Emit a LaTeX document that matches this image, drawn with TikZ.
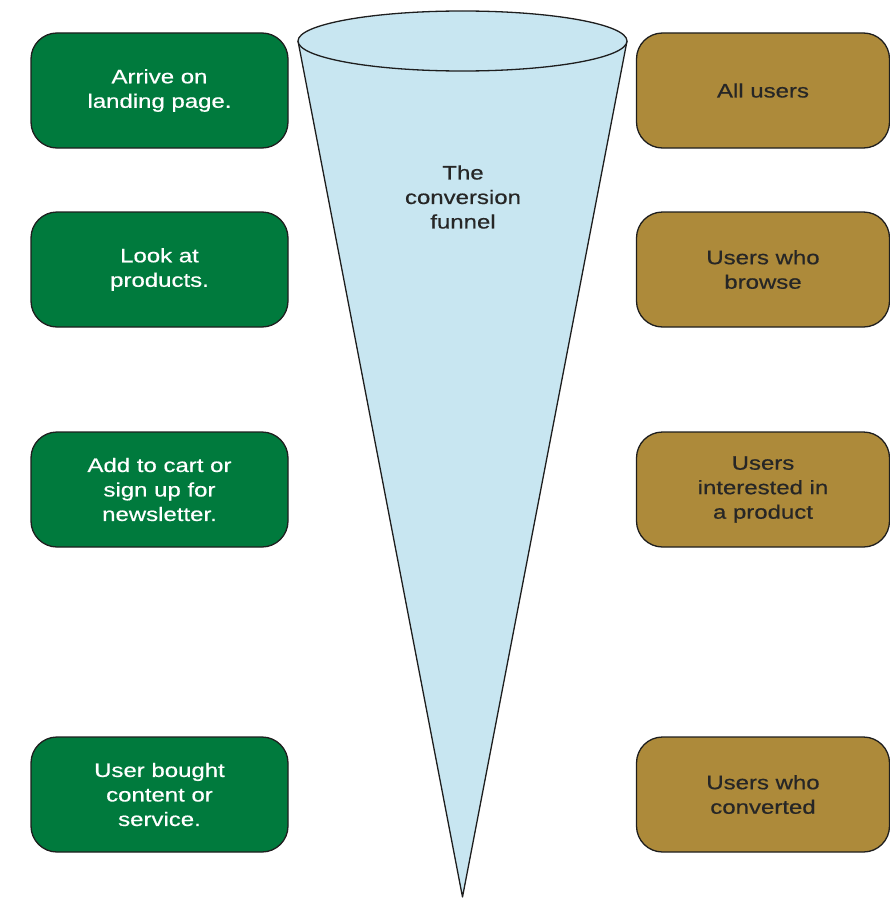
\documentclass[tikz,border=0pt]{standalone}
\usepackage{fontspec}
\setmainfont{Liberation Sans}
\newfontfamily\widefont[FakeStretch=1.23,FakeBold=0.6]{Liberation Sans}
\definecolor{boxgreen}{RGB}{0,122,61}
\definecolor{boxgold}{RGB}{173,138,58}
\definecolor{funnelblue}{RGB}{200,230,241}
\definecolor{edge}{RGB}{30,30,30}
\begin{document}
\begin{tikzpicture}[x=1pt,y=-1pt,
  stage/.style={draw=edge,line width=1.3pt,rounded corners=26pt,fill=boxgreen,
    minimum width=257pt,minimum height=115pt,text=white,align=center,
    font=\widefont\fontsize{19.5}{24.5}\selectfont},
  group/.style={draw=edge,line width=1.3pt,rounded corners=26pt,fill=boxgold,
    minimum width=253pt,minimum height=115pt,text=black!85,align=center,
    font=\widefont\fontsize{19.5}{24.5}\selectfont}]
\useasboundingbox (0,0) rectangle (889,899);
% funnel
\coordinate (tip) at (462.5,897);
\fill[funnelblue] (298,41) -- (tip) -- (627,41) arc[start angle=0,end angle=180,x radius=164.5,y radius=30];
\draw[edge,line width=1.3pt,line join=round] (298,41) -- (tip) -- (627,41);
\draw[edge,line width=1.3pt,fill=funnelblue] (462.5,41) ellipse[x radius=164.5,y radius=30];
\node[align=center,font=\widefont\fontsize{19.5}{24.5}\selectfont,text=black!85] (title) at (463,197) {The\\conversion\\funnel};
% left boxes
\node[stage] (s1) at (159.5,90.5) {Arrive on\\landing page.};
\node[stage] (s2) at (159.5,269.5) {Look at\\products.};
\node[stage] (s3) at (159.5,489.5) {Add to cart or\\sign up for\\newsletter.};
\node[stage] (s4) at (159.5,794.5) {User bought\\content or\\service.};
% right boxes
\node[group] (g1) at (763,90.5) {All users};
\node[group] (g2) at (763,269.5) {Users who\\browse};
\node[group] (g3) at (763,489.5) {Users\\interested in\\a product};
\node[group] (g4) at (763,794.5) {Users who\\converted};
\end{tikzpicture}
\end{document}
